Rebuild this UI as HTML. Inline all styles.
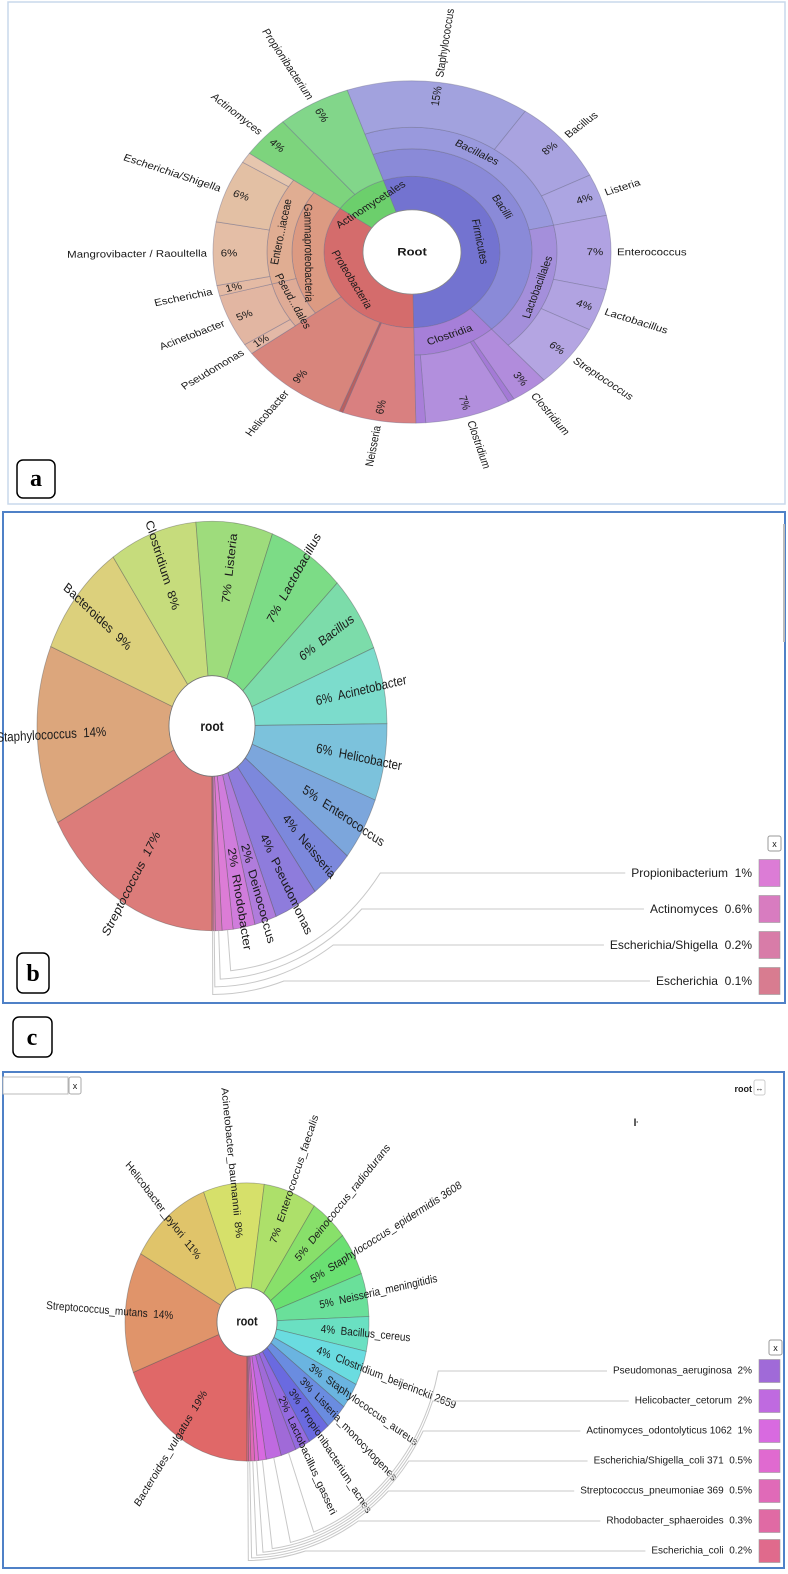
<!DOCTYPE html>
<html><head><meta charset="utf-8">
<style>
html,body{margin:0;padding:0;background:#fff;}
body{width:788px;height:1574px;position:relative;overflow:hidden;font-family:"Liberation Sans",Arial,sans-serif;}
svg{position:absolute;left:0;top:0;}
text{font-family:"Liberation Sans",Arial,sans-serif;fill:#1a1a1a;}
.lab{font-family:"Liberation Serif",serif;font-weight:bold;fill:#000;}
</style></head>
<body>
<svg id="fig" width="788" height="1574" viewBox="0 0 788 1574">
  <rect x="8" y="2" width="777" height="502" fill="#fff" stroke="#c9d8ec" stroke-width="1.5"/>
  <rect x="3" y="512" width="782" height="491" fill="#fff" stroke="#4f81c7" stroke-width="2"/>
  <line x1="784" y1="524" x2="784" y2="642" stroke="#bbb" stroke-width="2"/>
  <rect x="3" y="1072" width="781" height="496" fill="#fff" stroke="#4f81c7" stroke-width="2"/>
  <g id="ga"></g>
  <g id="gb"></g>
  <g id="gc"></g>
  <g id="legb"></g>
  <g id="legc"></g>
  <rect x="17" y="460" width="38" height="38" rx="6" fill="#fff" stroke="#000" stroke-width="1.5"/>
  <text class="lab" x="36" y="486" font-size="24" text-anchor="middle">a</text>
  <rect x="17" y="953" width="32" height="40" rx="6" fill="#fff" stroke="#000" stroke-width="1.5"/>
  <text class="lab" x="33" y="981" font-size="24" text-anchor="middle">b</text>
  <rect x="13" y="1017" width="39" height="40" rx="6" fill="#fff" stroke="#000" stroke-width="1.5"/>
  <text class="lab" x="32" y="1045" font-size="24" text-anchor="middle">c</text>
  <rect x="3" y="1077" width="65" height="17" fill="#fff" stroke="#bbb"/>
  <rect x="69" y="1077" width="12" height="17" rx="2" fill="#fff" stroke="#aaa"/>
  <text x="75" y="1089" font-size="9" text-anchor="middle">x</text>
  <text x="752" y="1092" font-size="9" font-weight="bold" text-anchor="end">root</text>
  <rect x="754" y="1080" width="11" height="15" rx="2" fill="#fff" stroke="#ccc"/>
  <text x="759.5" y="1091" font-size="8" text-anchor="middle" fill="#777">↔</text>
  <text x="636" y="1126" font-size="10" font-weight="bold" text-anchor="middle">ŀ</text>
</svg>
<script>
// ---------- Panel a data ----------
const aLeafNames=["Staphylococcus","Bacillus","Listeria","Enterococcus","Lactobacillus","Streptococcus","Clostridium","","Clostridium","","Neisseria","","Helicobacter","Pseudomonas","Acinetobacter","Escherichia","Mangrovibacter / Raoultella","Escherichia/Shigella","","Actinomyces","Propionibacterium"];
const aLeafValues=[15,8,4,7,4,6,3,0.5,7,0.8,6,0.3,9,1,5,1,6,6,1,4,6];
const aLeafLineage=[
["Firmicutes","Bacilli","Bacillales"],["Firmicutes","Bacilli","Bacillales"],["Firmicutes","Bacilli","Bacillales"],
["Firmicutes","Bacilli","Lactobacillales"],["Firmicutes","Bacilli","Lactobacillales"],["Firmicutes","Bacilli","Lactobacillales"],
["Firmicutes","Clostridia"],["Firmicutes","Clostridia"],["Firmicutes","Clostridia"],["Firmicutes","Clostridia"],
["Proteobacteria"],["Proteobacteria"],["Proteobacteria"],
["Proteobacteria","Gammaproteobacteria","Pseud...dales"],["Proteobacteria","Gammaproteobacteria","Pseud...dales"],
["Proteobacteria","Gammaproteobacteria","Entero...iaceae"],["Proteobacteria","Gammaproteobacteria","Entero...iaceae"],["Proteobacteria","Gammaproteobacteria","Entero...iaceae"],["Proteobacteria","Gammaproteobacteria","Entero...iaceae"],
["Actinomycetales"],["Actinomycetales"]];
const aLeafColors=["#a2a2de","#a9a3e0","#aca5e2","#b0a2e2","#b1a3e1","#b4a5e2","#b18cdc","#a47ad6","#b28fdd","#a97fd9","#d98080","#b86060","#d8857c","#e3b8a6","#e2b6a2","#e4baa4","#e4bea6","#e3c0a4","#e6c6ae","#7dd47d","#82d68a"];
const aNodeNames=["Firmicutes","Bacilli","Bacillales","Lactobacillales","Clostridia","Proteobacteria","Gammaproteobacteria","Pseud...dales","Entero...iaceae","Actinomycetales"];
const aNodeColors=["#7373d0","#8a8ad8","#9999dd","#a48fdb","#a67fd8","#d46c6c","#dc9a82","#dfab96","#e0ad92","#6ccf6c"];
// ---------- Panel b data ----------
const bNames=["Streptococcus","Staphylococcus","Bacteroides","Clostridium","Listeria","Lactobacillus","Bacillus","Acinetobacter","Helicobacter","Enterococcus","Neisseria","Pseudomonas","Deinococcus","Rhodobacter","Propionibacterium","Actinomyces","Escherichia/Shigella","Escherichia"];
const bValues=[17,14,9,8,7,7,6,6,6,5,4,4,2,2,1,0.6,0.2,0.1];
const bColors=["#dc7c7a","#dca67c","#dcd07c","#c6dc7c","#9edc7c","#7cdc86","#7cdcaa","#7cdccc","#7cc2dc","#7ca6dc","#7c88dc","#8e7cdc","#b07cdc","#d07cdc","#dc7cd6","#d87cc0","#d87ca8","#d87c90"];
// ---------- Panel c data ----------
const cNames=["Bacteroides_vulgatus","Streptococcus_mutans","Helicobacter_pylori","Acinetobacter_baumannii","Enterococcus_faecalis","Deinococcus_radiodurans","Staphylococcus_epidermidis 3608","Neisseria_meningitidis","Bacillus_cereus","Clostridium_beijerinckii 2659","Staphylococcus_aureus","Listeria_monocytogenes","Propionibacterium_acnes","Lactobacillus_gasseri","Pseudomonas_aeruginosa","Helicobacter_cetorum","Actinomyces_odontolyticus 1062","Escherichia/Shigella_coli 371","Streptococcus_pneumoniae 369","Rhodobacter_sphaeroides","Escherichia_coli"];
const cValues=[19,14,11,8,7,5,5,5,4,4,3,3,3,2,2,2,1,0.5,0.5,0.3,0.2];
const cColors=["#e06868","#e0946a","#e0c46a","#d6e06a","#ade06a","#88e06a","#6ae072","#6ae09a","#6ae0c2","#6adce0","#6ab4e0","#6a8ce0","#6a6ae0","#946ae0","#a06ad8","#bf6ae0","#d86ae0","#e06ad0","#e06ab8","#e06aa4","#e06a8c"];

const NS="http://www.w3.org/2000/svg";
function mk(tag,attrs,parent){const e=document.createElementNS(NS,tag);for(const k in attrs)e.setAttribute(k,attrs[k]);parent.appendChild(e);return e;}
function pt(r,a){const t=a*Math.PI/180;return [r*Math.sin(t),-r*Math.cos(t)];}
function wedge(r1,r2,a1,a2){
  const large=(a2-a1)>180?1:0;
  const p1=pt(r2,a1),p2=pt(r2,a2),p3=pt(r1,a2),p4=pt(r1,a1);
  return `M${p1[0]},${p1[1]}A${r2},${r2} 0 ${large} 1 ${p2[0]},${p2[1]}L${p3[0]},${p3[1]}A${r1},${r1} 0 ${large} 0 ${p4[0]},${p4[1]}Z`;
}
function norm(a){return ((a%360)+360)%360;}
function fmt(v){return (v>=1?Math.round(v):v)+"%";}

// ---------- Draw panel a ----------
(function(){
  const g0=document.getElementById("ga");
  const g=mk("g",{transform:"translate(412,252) scale(1,0.86)"},g0);
  const radii=[49,88,120,145,199];
  const start=341;
  const total=aLeafValues.reduce((s,v)=>s+v,0);
  const a0=[],a1=[];let acc=start;
  aLeafValues.forEach(v=>{a0.push(acc);acc+=v/total*360;a1.push(acc);});
  const nodes=[];
  for(let d=1;d<=3;d++){
    let i=0;
    while(i<aLeafLineage.length){
      if(aLeafLineage[i].length<d){i++;continue;}
      const key=aLeafLineage[i].slice(0,d).join("|");let j=i;
      while(j+1<aLeafLineage.length&&aLeafLineage[j+1].length>=d&&aLeafLineage[j+1].slice(0,d).join("|")===key)j++;
      nodes.push({name:aLeafLineage[i][d-1],d:d,s:a0[i],e:a1[j]});
      i=j+1;
    }
  }
  nodes.forEach(n=>{
    const idx=aNodeNames.indexOf(n.name);
    const p=mk("path",{d:wedge(radii[n.d-1],radii[n.d],n.s,n.e),fill:aNodeColors[idx],stroke:"#6b6b8a","stroke-opacity":"0.45","stroke-width":"0.8","vector-effect":"non-scaling-stroke"},g);
    
    
  });
  aLeafValues.forEach((v,i)=>{
    const r1=radii[aLeafLineage[i].length];
    const p=mk("path",{d:wedge(r1,radii[4],a0[i],a1[i]),fill:aLeafColors[i],stroke:"#6b6b8a","stroke-opacity":"0.45","stroke-width":"0.8","vector-effect":"non-scaling-stroke"},g);
    
    
  });
  nodes.forEach(n=>{
    const m=norm((n.s+n.e)/2);const r=(radii[n.d-1]+radii[n.d])/2;const q=pt(r,m);
    let rot=m;if(m>90&&m<270)rot=m-180;else if(m>=270)rot=m-360;
    const t=mk("text",{x:q[0],y:q[1],"font-size":"11.5","text-anchor":"middle","dominant-baseline":"central",transform:`rotate(${rot} ${q[0]} ${q[1]})`},g);
    t.textContent=n.name;
    
    
  });
  aLeafValues.forEach((v,i)=>{
    if(!aLeafNames[i])return;
    const m=norm((a0[i]+a1[i])/2);const right=m<180;
    const rot=right?m-90:m-270;
    const q=pt(183,m);
    const t1=mk("text",{x:q[0],y:q[1],"font-size":"11.5","text-anchor":"middle","dominant-baseline":"central",transform:`rotate(${rot} ${q[0]} ${q[1]})`},g);
    t1.textContent=fmt(v);
    
    
    const q2=pt(205,m);
    const t2=mk("text",{x:q2[0],y:q2[1],"font-size":"11.5","text-anchor":right?"start":"end","dominant-baseline":"central",transform:`rotate(${rot} ${q2[0]} ${q2[1]})`},g);
    t2.textContent=aLeafNames[i];
    
    
  });
  const h=mk("circle",{cx:0,cy:0,r:49,fill:"#fff",stroke:"#888","stroke-width":"0.8","vector-effect":"non-scaling-stroke"},g);
  
  
  const rt=mk("text",{x:0,y:0,"font-size":"13","font-weight":"bold","text-anchor":"middle","dominant-baseline":"central"},g);
  rt.textContent="Root";
  
  
})();

// ---------- Panel b / c ----------
function drawPie(gid,legid,names,values,colors,o){
  const g0=document.getElementById(gid);
  const g=mk("g",{transform:`translate(${o.cx},${o.cy}) scale(1,${o.k})`},g0);
  const total=values.reduce((s,v)=>s+v,0);
  const a0=[],a1=[];let acc=180;
  values.forEach(v=>{a0.push(acc);acc+=v/total*360;a1.push(acc);});
  values.forEach((v,i)=>{
    const p=mk("path",{d:wedge(o.hole,o.outer,a0[i],a1[i]),fill:colors[i],stroke:"#555","stroke-opacity":"0.45","stroke-width":"0.8","vector-effect":"non-scaling-stroke"},g);
    
    
  });
  values.forEach((v,i)=>{
    if(i>=o.nLab)return;
    const m=norm((a0[i]+a1[i])/2);const right=m<180;const rot=right?m-90:m-270;
    const q=pt(o.r0,m);
    const t=mk("text",{x:q[0],y:q[1],"font-size":o.fs,"text-anchor":right?"start":"end","dominant-baseline":"central",transform:`rotate(${rot} ${q[0]} ${q[1]})`,style:"white-space:pre"},g);
    t.textContent=right?(fmt(v)+"  "+names[i]):(names[i]+"  "+fmt(v));
    
    
  });
  const h=mk("circle",{cx:0,cy:0,r:o.hole,fill:"#fff",stroke:"#777","stroke-width":"0.8","vector-effect":"non-scaling-stroke"},g);
  
  
  const rt=mk("text",{x:0,y:0,"font-size":o.rfs,"font-weight":"bold","text-anchor":"middle","dominant-baseline":"central"},g);
  rt.textContent="root";
  
  
  const L=document.getElementById(legid);
  const xb=mk("rect",{x:o.xbx,y:o.xby,width:13,height:15,rx:2,fill:"#fff",stroke:"#999"},L);
  
  
  const xt=mk("text",{x:o.xbx+6.5,y:o.xby+11,"font-size":"9","text-anchor":"middle"},L);
  xt.textContent="x";
  
  
  for(let j=o.legStart;j<values.length;j++){
    const n=j-o.legStart;const y=o.ly0+n*o.lgap;
    const sw=mk("rect",{x:759,y:y-o.sh/2,width:21,height:o.sh,fill:colors[j],stroke:"#999","stroke-width":"0.6"},L);
    
    
    const t=mk("text",{x:752,y:y,"font-size":o.lfs,"text-anchor":"end","dominant-baseline":"central",style:"white-space:pre"},L);
    t.textContent=names[j]+"  "+fmt(values[j]);
    
    
    const tx=752-t.getComputedTextLength()-6;
    const m=norm((a0[j]+a1[j])/2);
    const R=o.R0+n*o.Rg;
    let dy=(y-o.cy)/o.k;let c=-dy/R;c=Math.max(-1,Math.min(1,c));
    const phi=Math.acos(c)*180/Math.PI;
    const p1=pt(o.outer,m),p2=pt(R,m),p3=pt(R,phi);
    const ln=mk("path",{d:`M${p1[0]},${p1[1]}L${p2[0]},${p2[1]}A${R},${R} 0 0 0 ${p3[0]},${p3[1]}L${tx-o.cx},${p3[1]}`,fill:"none",stroke:"#c8c8c8","stroke-width":"1","vector-effect":"non-scaling-stroke"},g);
    
    
  }
}
drawPie("gb","legb",bNames,bValues,bColors,{cx:212,cy:726,k:1.17,hole:43,outer:175,r0:106,nLab:14,fs:"11.5",rfs:"12",legStart:14,ly0:873,lgap:36,sh:27,lfs:"12",R0:210,Rg:6.5,xbx:768,xby:836});
drawPie("gc","legc",cNames,cValues,cColors,{cx:247,cy:1322,k:1.14,hole:30,outer:122,r0:74,nLab:14,fs:"10",rfs:"11",legStart:14,ly0:1371,lgap:30,sh:23,lfs:"10",R0:196,Rg:2.2,xbx:769,xby:1340});
</script>
</body></html>
